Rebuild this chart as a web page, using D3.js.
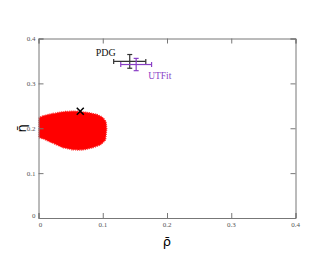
<!DOCTYPE html>
<html>
<head>
<meta charset="utf-8">
<script src="https://cdn.jsdelivr.net/npm/d3@7"></script>
<style>
  body { margin: 0; background: #fff; }
</style>
</head>
<body>
<div id="chart"></div>
<script>
// contour de la région rouge (rho, eta)
const blobRho = [0.001, 0.008, 0.023, 0.04, 0.058, 0.076, 0.09, 0.1, 0.105, 0.106, 0.104, 0.096, 0.085, 0.07, 0.054, 0.038, 0.022, 0.008, 0.001, 0.001];
const blobEta = [0.223, 0.228, 0.233, 0.237, 0.238, 0.235, 0.231, 0.224, 0.214, 0.198, 0.174, 0.163, 0.157, 0.152, 0.152, 0.157, 0.167, 0.176, 0.18, 0.2];

// points avec barres d'erreur
const pointNames = ["PDG", "UTFit"];
const pointRho = [0.142, 0.152];
const pointEta = [0.349, 0.342];
const pointErrRho = [0.025, 0.024];
const pointErrEta = [0.0153, 0.0137];
const pointColors = ["#333", "#8a3fc6"];

// meilleur ajustement (croix)
const bestRho = [0.065];
const bestEta = [0.238];

const xTicks = [0, 0.1, 0.2, 0.3, 0.4];
const yTicks = [0, 0.1, 0.2, 0.3, 0.4];

const width = 332, height = 257;
const margin = { left: 38.5, right: 36.5, top: 38.5, bottom: 39 };

const svg = d3.select("#chart").append("svg")
  .attr("width", width).attr("height", height);

const x = d3.scaleLinear().domain([0, 0.4]).range([margin.left, width - margin.right]);
const y = d3.scaleLinear().domain([0, 0.4]).range([height - margin.bottom, margin.top]);

// région rouge
const blob = blobRho.map((r, i) => [x(r), y(blobEta[i])]);
svg.append("path")
  .attr("d", d3.line().curve(d3.curveCardinalClosed.tension(0.6))(blob))
  .attr("fill", "#f00")
  .attr("stroke", "#f22")
  .attr("stroke-width", 1.5)
  .attr("stroke-dasharray", "1,1");

// axes, ticks vers l'intérieur
const fmt = d => d === 0 ? "0" : d3.format(".1f")(d);
svg.append("g")
  .attr("transform", "translate(0," + y(0) + ")")
  .call(d3.axisTop(x).tickValues(xTicks).tickSize(5).tickFormat(""));
svg.append("g")
  .attr("transform", "translate(0," + y(0.4) + ")")
  .call(d3.axisBottom(x).tickValues(xTicks).tickSize(5).tickFormat(""));
svg.append("g")
  .attr("transform", "translate(" + x(0) + ",0)")
  .call(d3.axisRight(y).tickValues(yTicks).tickSize(5).tickFormat(""));
svg.append("g")
  .attr("transform", "translate(" + x(0.4) + ",0)")
  .call(d3.axisLeft(y).tickValues(yTicks).tickSize(5).tickFormat(""));
svg.selectAll(".domain, .tick line").attr("stroke", "#777").attr("stroke-width", 1);

// étiquettes des ticks
svg.append("g").selectAll("text").data(xTicks).join("text")
  .attr("x", d => x(d) + (d === 0 ? 2 : 0)).attr("y", y(0) + 9)
  .attr("text-anchor", "middle")
  .attr("font-family", "Liberation Serif, serif").attr("font-size", 7).attr("fill", "#555")
  .text(fmt);
svg.append("g").selectAll("text").data(yTicks).join("text")
  .attr("x", x(0) - 3).attr("y", d => y(d) + (d === 0 ? 0 : 2.5))
  .attr("text-anchor", "end")
  .attr("font-family", "Liberation Serif, serif").attr("font-size", 7).attr("fill", "#555")
  .text(fmt);

// barres d'erreur
const cap = 2.5;
pointNames.forEach((n, i) => {
  const g = svg.append("g").attr("stroke", pointColors[i]).attr("stroke-width", 1.2);
  const cx = x(pointRho[i]), cy = y(pointEta[i]);
  const x0 = x(pointRho[i] - pointErrRho[i]), x1 = x(pointRho[i] + pointErrRho[i]);
  const y0 = y(pointEta[i] - pointErrEta[i]), y1 = y(pointEta[i] + pointErrEta[i]);
  g.append("line").attr("x1", x0).attr("x2", x1).attr("y1", cy).attr("y2", cy);
  g.append("line").attr("x1", cx).attr("x2", cx).attr("y1", y0).attr("y2", y1);
  [x0, x1].forEach(v => g.append("line").attr("x1", v).attr("x2", v).attr("y1", cy - cap).attr("y2", cy + cap));
  [y0, y1].forEach(v => g.append("line").attr("x1", cx - cap).attr("x2", cx + cap).attr("y1", v).attr("y2", v));
});

svg.append("text").attr("x", x(pointRho[0]) - 14).attr("y", y(pointEta[0]) - 5)
  .attr("text-anchor", "end")
  .attr("font-family", "Liberation Serif, serif").attr("font-size", 10).attr("fill", "#111")
  .text(pointNames[0]);
svg.append("text").attr("x", x(pointRho[1]) + 12).attr("y", y(pointEta[1]) + 14)
  .attr("font-family", "Liberation Serif, serif").attr("font-size", 9.5).attr("fill", pointColors[1])
  .text(pointNames[1]);

// croix
bestRho.forEach((r, i) => {
  const cx = x(r), cy = y(bestEta[i]), s = 3.5;
  svg.append("path")
    .attr("d", `M${cx - s},${cy - s}L${cx + s},${cy + s}M${cx - s},${cy + s}L${cx + s},${cy - s}`)
    .attr("stroke", "#000").attr("stroke-width", 1.5);
});

// titres des axes
svg.append("text").attr("x", x(0.2)).attr("y", 246)
  .attr("text-anchor", "middle")
  .attr("font-family", "DejaVu Sans, sans-serif").attr("font-size", 13)
  .text("ρ\u0304");
svg.append("text")
  .attr("transform", "translate(26," + y(0.2) + ") rotate(-90)")
  .attr("text-anchor", "middle")
  .attr("font-family", "DejaVu Sans, sans-serif").attr("font-size", 13)
  .text("η\u0304");
</script>
</body>
</html>
